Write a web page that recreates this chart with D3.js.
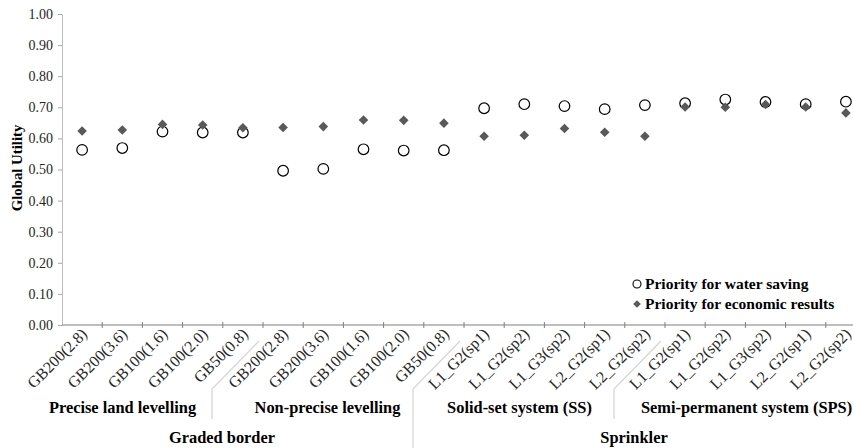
<!DOCTYPE html>
<html>
<head>
<meta charset="utf-8">
<script src="https://cdn.jsdelivr.net/npm/d3@7/dist/d3.min.js"></script>
<style>
  html, body { margin: 0; padding: 0; background: #fff; }
  svg text { font-family: "Liberation Serif", "Times New Roman", Times, "DejaVu Serif", serif !important; }
</style>
</head>
<body>
<svg id="chart" width="853" height="448"></svg>
<script>
// Alternatives (x-axis categories)
const categories = [
  "GB200(2.8)", "GB200(3.6)", "GB100(1.6)", "GB100(2.0)", "GB50(0.8)",
  "GB200(2.8)", "GB200(3.6)", "GB100(1.6)", "GB100(2.0)", "GB50(0.8)",
  "L1_G2(sp1)", "L1_G2(sp2)", "L1_G3(sp2)", "L2_G2(sp1)", "L2_G2(sp2)",
  "L1_G2(sp1)", "L1_G2(sp2)", "L1_G3(sp2)", "L2_G2(sp1)", "L2_G2(sp2)"
];

// Global utility under each weighting scenario
const waterSaving = [0.563, 0.569, 0.622, 0.619, 0.619, 0.496, 0.502, 0.565, 0.561, 0.562,
                     0.697, 0.710, 0.704, 0.694, 0.707, 0.713, 0.725, 0.717, 0.710, 0.718];
const economic    = [0.624, 0.627, 0.645, 0.643, 0.634, 0.635, 0.638, 0.659, 0.658, 0.649,
                     0.607, 0.610, 0.632, 0.620, 0.607, 0.701, 0.700, 0.709, 0.701, 0.682];

const seriesNames = ["Priority for water saving", "Priority for economic results"];

// Category groupings: sub-groups (5 alternatives each) and main systems (10 each)
const subGroups  = ["Precise land levelling", "Non-precise levelling", "Solid-set system (SS)", "Semi-permanent system (SPS)"];
const mainGroups = ["Graded border", "Sprinkler"];

const yTicks = [0, 0.1, 0.2, 0.3, 0.4, 0.5, 0.6, 0.7, 0.8, 0.9, 1.0];

const W = 853, H = 448;
const svg = d3.select("#chart");

const x = d3.scaleBand().domain(d3.range(categories.length)).range([62, 866]).padding(0);
const y = d3.scaleLinear().domain([0, 1]).range([325, 14]);

// Y axis
const yAxis = svg.append("g")
  .attr("transform", "translate(62,0)")
  .call(d3.axisLeft(y).tickValues(yTicks).tickFormat(d3.format(".2f")).tickSize(4).tickPadding(5).tickSizeOuter(0));
yAxis.select(".domain").attr("stroke", "#bfbfbf");
yAxis.selectAll(".tick line").attr("stroke", "#a6a6a6");
yAxis.selectAll(".tick text").attr("font-size", 14).attr("fill", "#262626");

// X axis line with ticks at category boundaries
const xg = svg.append("g");
xg.append("line").attr("x1", 62).attr("x2", 866).attr("y1", y(0)).attr("y2", y(0))
  .attr("stroke", "#7f7f7f").attr("stroke-width", 1);
d3.range(1, categories.length + 1).forEach(i => {
  const xt = i < categories.length ? x(i) : x(categories.length - 1) + x.bandwidth();
  xg.append("line").attr("x1", xt).attr("x2", xt).attr("y1", y(0) - 3).attr("y2", y(0) + 3)
    .attr("stroke", "#7f7f7f");
});

// Rotated category labels
xg.selectAll("text.cat").data(categories).join("text")
  .attr("class", "cat")
  .attr("transform", (d, i) => `translate(${x(i) + x.bandwidth() / 2 + 6},${y(0) + 10}) rotate(-45)`)
  .attr("text-anchor", "end")
  .attr("font-size", 16)
  .attr("fill", "#262626")
  .text(d => d);

// Group separators
const sepColor = "#d4d4d4";
[5, 10, 15].forEach(i => {
  const xt = x(i);
  const long = i === 10;
  svg.append("path")
    .attr("d", `M${xt - 4},${y(0) + 16} L${xt - 51},${y(0) + 64} L${xt - 51},${long ? H : y(0) + 94}`)
    .attr("fill", "none").attr("stroke", sepColor).attr("stroke-width", 1.2);
});

// Sub-group labels (shifted left to sit between the separators)
const subShift = [-40, -36, -45, -19];
subGroups.forEach((name, k) => {
  const left = x(k * 5), right = x(k * 5 + 4) + x.bandwidth();
  svg.append("text")
    .attr("x", (left + right) / 2 + subShift[k]).attr("y", 413)
    .attr("text-anchor", "middle")
    .attr("font-size", 16.4).attr("font-weight", "bold").attr("fill", "#000")
    .text(name);
});

// Main group labels
const mainShift = [-41, -31];
mainGroups.forEach((name, k) => {
  const left = x(k * 10), right = x(k * 10 + 9) + x.bandwidth();
  svg.append("text")
    .attr("x", (left + right) / 2 + mainShift[k]).attr("y", 443)
    .attr("text-anchor", "middle")
    .attr("font-size", 16.4).attr("font-weight", "bold").attr("fill", "#000")
    .text(name);
});

// Y axis title
svg.append("text")
  .attr("transform", `translate(22,168) rotate(-90)`)
  .attr("text-anchor", "middle")
  .attr("font-size", 14.8).attr("font-weight", "bold").attr("fill", "#000")
  .text("Global Utility");

// Markers
const diamond = d3.symbol().type(d3.symbolSquare).size(46);
const cx = i => x(i) + x.bandwidth() / 2;

svg.append("g").selectAll("circle").data(waterSaving).join("circle")
  .attr("cx", (d, i) => cx(i)).attr("cy", d => y(d)).attr("r", 5.3)
  .attr("fill", "#fff").attr("stroke", "#000").attr("stroke-width", 1.2);

svg.append("g").selectAll("path").data(economic).join("path")
  .attr("d", diamond)
  .attr("transform", (d, i) => `translate(${cx(i)},${y(d)}) rotate(45)`)
  .attr("fill", "#595959");

// Legend
const lg = svg.append("g").attr("transform", "translate(637,284)");
lg.append("circle").attr("cx", 0).attr("cy", 0).attr("r", 4)
  .attr("fill", "#fff").attr("stroke", "#000").attr("stroke-width", 1.1);
lg.append("path").attr("d", d3.symbol().type(d3.symbolSquare).size(30))
  .attr("transform", "translate(0,20) rotate(45)").attr("fill", "#595959");
seriesNames.forEach((name, k) => {
  lg.append("text").attr("x", 8).attr("y", k * 20 + 5)
    .attr("font-size", 15.5).attr("font-weight", "bold").attr("fill", "#000")
    .text(name);
});
</script>
</body>
</html>
